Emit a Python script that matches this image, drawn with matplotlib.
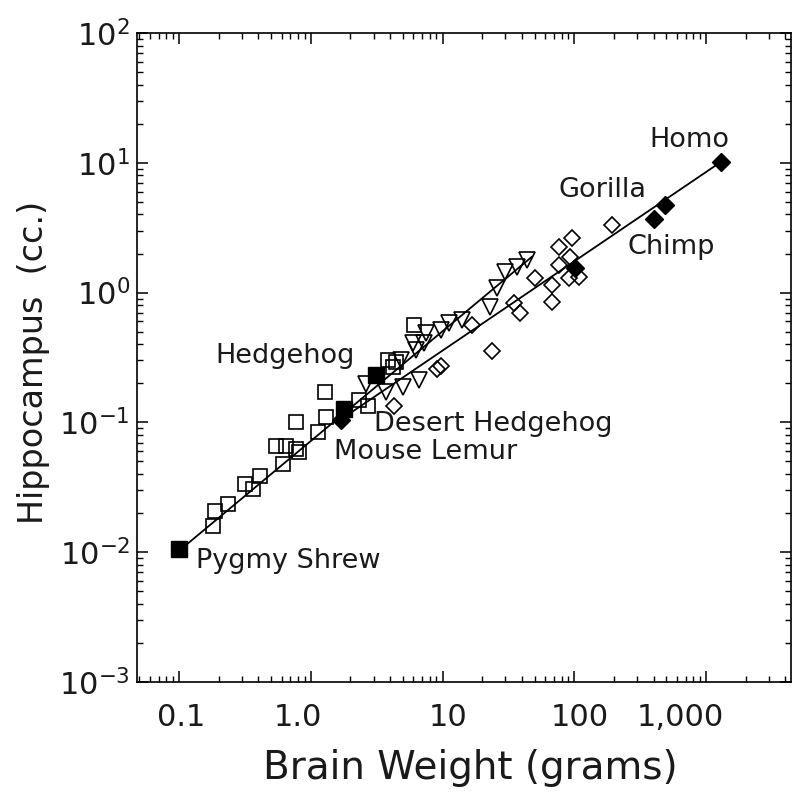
import matplotlib
matplotlib.use('Agg')
import matplotlib.pyplot as plt
import matplotlib.transforms as mtransforms
import numpy as np

plt.rcParams['font.family'] = ['DejaVu Sans']
plt.rcParams['mathtext.default'] = 'regular'

# Insectivores (open squares): brain weight (g), hippocampus (cc)
sq_brain = [0.182, 0.188, 0.237, 0.319, 0.367, 0.415, 0.541, 0.644, 0.611, 0.767,
            0.81, 0.767, 1.13, 1.30, 1.28, 2.32, 2.72, 3.87, 4.46, 4.23, 6.11]
sq_hippo = [0.0158, 0.0207, 0.0234, 0.0334, 0.0305, 0.0385, 0.0654, 0.0654, 0.0475, 0.062,
            0.0588, 0.100, 0.0838, 0.111, 0.170, 0.150, 0.133, 0.305, 0.294, 0.265, 0.567]

# Prosimians (open down-triangles)
tri_brain = [43.8, 36.7, 29.7, 25.8, 22.9, 14.0, 11.3, 9.82, 7.29, 6.34, 4.87, 7.55, 6.01,
             3.74, 5.04, 6.67, 2.63]
tri_hippo = [1.79, 1.58, 1.45, 1.09, 0.780, 0.62, 0.587, 0.519, 0.412, 0.364, 0.305, 0.492, 0.412,
             0.170, 0.186, 0.214, 0.196]

# Simians (open diamonds)
dia_brain = [195, 96.6, 76.8, 93.1, 76.8, 109, 91.6, 50.4, 67.9, 67.9, 34.8, 38.7, 16.6,
             23.6, 9.82, 9.16, 4.31]
dia_hippo = [3.34, 2.65, 2.26, 1.89, 1.64, 1.33, 1.30, 1.30, 1.15, 0.853, 0.838, 0.702, 0.567,
             0.352, 0.27, 0.256, 0.133]

# Highlighted species (filled)
fsq_brain = [0.10, 1.79, 3.13]
fsq_hippo = [0.0105, 0.126, 0.23]
fdia_brain = [1.70, 102, 401, 487, 1303]
fdia_hippo = [0.105, 1.56, 3.7, 4.75, 10.2]

# regression lines: log10(hippo) = a + b*log10(brain), over brain range
fit_a = [-1.144, -1.135]
fit_b = [0.846, 0.688]
fit_range = [(0.10, 47.8), (1.70, 1303)]

# species labels: text, position (brain, hippo)
label_text = ['Homo', 'Gorilla', 'Chimp', 'Hedgehog', 'Desert Hedgehog', 'Mouse Lemur', 'Pygmy Shrew']
label_x = [741, 76, 255, 0.19, 3.03, 1.50, 0.135]
label_y = [15.0, 6.2, 2.26, 0.322, 0.0966, 0.0588, 0.0085]
label_ha = ['center', 'left', 'left', 'left', 'left', 'left', 'left']

xticks = [0.1, 1, 10, 100, 1000]
xticklabels = ['0.1', '1.0', '10', '100', '1,000']
xlabel_shift = [2, -13, 6, 5, -26]  # pixels; labels in the original sit off-tick
yticks = [1e-3, 1e-2, 1e-1, 1e0, 1e1, 1e2]
yticklabels = ['$10^{-3}$', '$10^{-2}$', '$10^{-1}$', '$10^{0}$', '$10^{1}$', '$10^{2}$']

fig = plt.figure(figsize=(7.94, 7.97), dpi=100)
ax = fig.add_axes([0.1725, 0.1443, 0.8235, 0.8143])

for a, b, (x0, x1) in zip(fit_a, fit_b, fit_range):
    xs = np.array([x0, x1])
    ax.plot(xs, 10 ** (a + b * np.log10(xs)), color='black', lw=1.3, zorder=2)

ax.plot(sq_brain, sq_hippo, 's', ms=10.5, mfc='none', mec='black', mew=1.2, zorder=3)
ax.plot(tri_brain, tri_hippo, 'v', ms=11, mfc='none', mec='black', mew=1.2, zorder=3)
ax.plot(dia_brain, dia_hippo, 'D', ms=8.5, mfc='none', mec='black', mew=1.2, zorder=3)
ax.plot(fsq_brain, fsq_hippo, 's', ms=11, color='black', zorder=4)
ax.plot(fdia_brain, fdia_hippo, 'D', ms=9, color='black', zorder=4)

for t, x, y, ha in zip(label_text, label_x, label_y, label_ha):
    ax.text(x, y, t, fontsize=19.5, ha=ha, va='center', color='#1a1a1a')

ax.set_xscale('log')
ax.set_yscale('log')
ax.set_xlim(0.048, 4400)
ax.set_ylim(1e-3, 1e2)

ax.set_xticks(xticks)
ax.set_xticklabels([])
ax.set_yticks(yticks)
ax.set_yticklabels(yticklabels)

# x tick labels drawn by hand so they can sit where the original puts them
for xt, lab, dx in zip(xticks, xticklabels, xlabel_shift):
    off = mtransforms.ScaledTranslation(dx / 100, -36 / 100, fig.dpi_scale_trans)
    ax.text(xt, 0, lab, transform=ax.get_xaxis_transform() + off,
            ha='center', va='center', fontsize=22, color='#1a1a1a')

ax.tick_params(which='both', direction='in', top=True, right=True, colors='black')
ax.tick_params(which='major', length=8, width=1.1, labelsize=22)
ax.tick_params(axis='y', which='major', pad=5, labelcolor='#1a1a1a')
ax.tick_params(which='minor', length=4, width=1.0)
for s in ax.spines.values():
    s.set_linewidth(1.2)

ax.set_xlabel('Brain Weight (grams)', fontsize=28, color='#1a1a1a', va='center')
ax.xaxis.set_label_coords(0.51, -0.1325)
ax.set_ylabel('Hippocampus  (cc.)', fontsize=24, color='#1a1a1a', va='center')
ax.yaxis.set_label_coords(-0.159, 0.493)

fig.savefig('out.png', dpi=100)
